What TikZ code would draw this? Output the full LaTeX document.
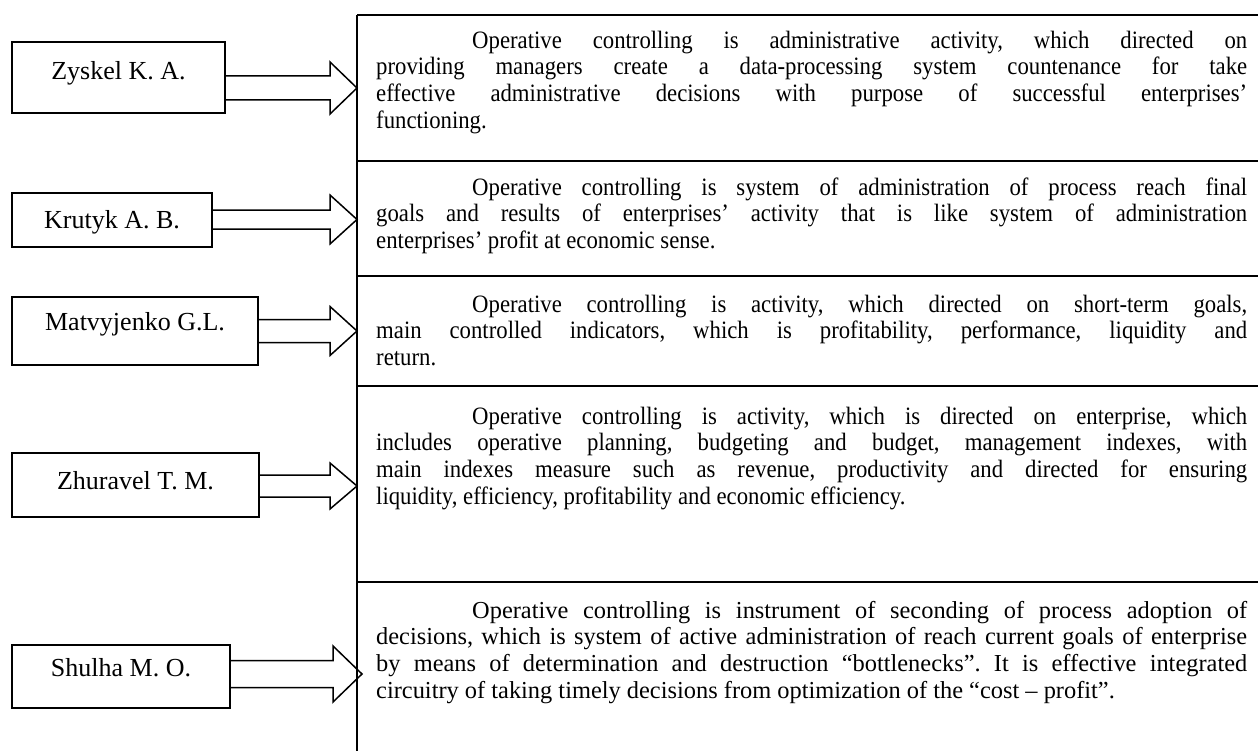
\documentclass[tikz,border=0pt]{standalone}
\usepackage{fontspec}
\setmainfont{Liberation Serif}
\newfontfamily\condfont{Liberation Serif}[FakeStretch=0.91]
\usetikzlibrary{calc}
\newcommand\fatarr[5]{%
  \draw[fatline] ($(#1.east|-#2)+(0,-#3)$) -- ($(#2)+(-#5,-#3)$) -- ($(#2)+(-#5,-#4)$) -- (#2)
    -- ($(#2)+(-#5,#4)$) -- ($(#2)+(-#5,#3)$) -- ($(#1.east|-#2)+(0,#3)$);}
\begin{document}
\tolerance=10000
\hyphenpenalty=10000
\frenchspacing
\begin{tikzpicture}[x=1bp,y=-1bp,
  lbl/.style={draw, line width=1.5bp, inner sep=0pt, text height=17bp,
    font=\fontsize{26bp}{30bp}\selectfont},
  defn/.style={anchor=north west, inner sep=0pt, text width=871bp, align=justify,
    font=\condfont\fontsize{25bp}{26.7bp}\selectfont},
  defnb/.style={defn, font=\fontsize{24.4bp}{26.7bp}\selectfont},
  panel/.style={line width=2bp},
  fatline/.style={draw, line width=1.5bp, line join=miter}]
\useasboundingbox (0,0) rectangle (1258,751);
% author boxes
\node[lbl, minimum width=213bp, minimum height=71bp, text depth=13bp] (z1) at (118.5,77.5) {Zyskel K. A.};
\node[lbl, minimum width=200bp, minimum height=54bp, text depth=0bp] (z2) at (112,220) {Krutyk A. B.};
\node[lbl, minimum width=246bp, minimum height=68bp, text depth=18bp] (z3) at (135,331) {Matvyjenko G.L.};
\node[lbl, minimum width=247bp, minimum height=64bp, text depth=8bp] (z4) at (135.5,485) {Zhuravel T. M.};
\node[lbl, minimum width=218bp, minimum height=63bp, text depth=18bp] (z5) at (121,676.5) {Shulha M. O.};
% right panel
\draw[panel] (357,15) -- (357,751);
\draw[panel] (357,15) -- (1258,15);
\draw[panel] (357,161) -- (1258,161);
\draw[panel] (357,276) -- (1258,276);
\draw[panel] (357,386) -- (1258,386);
\draw[panel] (357,582) -- (1258,582);
% arrow tips
\coordinate (t1) at (357,88);
\coordinate (t2) at (357,219.5);
\coordinate (t3) at (357,331);
\coordinate (t4) at (357,486);
\coordinate (t5) at (362,674);
\fatarr{z1}{t1}{12}{26}{27}
\fatarr{z2}{t2}{9.5}{24.5}{27}
\fatarr{z3}{t3}{11.5}{24.5}{27}
\fatarr{z4}{t4}{11}{23}{27}
\fatarr{z5}{t5}{13.5}{28}{29}
% definitions
\node[defn] (d1) at (376,29.3) {\strut\hspace*{96bp}Operative controlling is administrative activity, which directed on\linebreak providing managers create a data-processing system countenance for take\linebreak effective administrative decisions with purpose of successful enterprises’\linebreak functioning.};
\node[defn] (d2) at (376,176.3) {\strut\hspace*{96bp}Operative controlling is system of administration of process reach final\linebreak goals and results of enterprises’ activity that is like system of administration\linebreak enterprises’ profit at economic sense.};
\node[defn] (d3) at (376,293.3) {\strut\hspace*{96bp}Operative controlling is activity, which directed on short-term goals,\linebreak main controlled indicators, which is profitability, performance, liquidity and\linebreak return.};
\node[defn] (d4) at (376,405.3) {\strut\hspace*{96bp}Operative controlling is activity, which is directed on enterprise, which\linebreak includes operative planning, budgeting and budget, management indexes, with\linebreak main indexes measure such as revenue, productivity and directed for ensuring\linebreak liquidity, efficiency, profitability and economic efficiency.};
\node[defnb] (d5) at (376,599.3) {\strut\hspace*{96bp}Operative controlling is instrument of seconding of process adoption of\linebreak decisions, which is system of active administration of reach current goals of enterprise\linebreak by means of determination and destruction “bottlenecks”. It is effective integrated\linebreak circuitry of taking timely decisions from optimization of the “cost – profit”.};
\end{tikzpicture}
\end{document}
